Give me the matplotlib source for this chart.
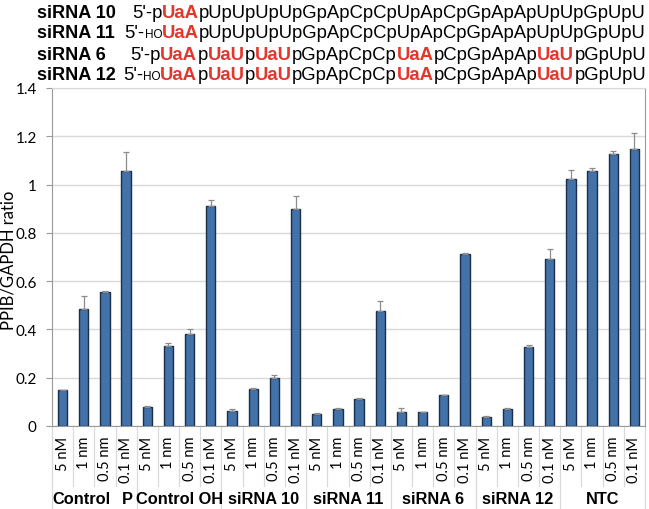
import matplotlib
matplotlib.use("Agg")
import matplotlib.pyplot as plt
import numpy as np

W, H = 649, 510

groups = ["Control  P", "Control OH", "siRNA 10", "siRNA 11", "siRNA 6", "siRNA 12", "NTC"]
conc = ["5 nM", "1 nm", "0.5 nm", "0.1 nM"]

ratio = [0.148, 0.486, 0.554, 1.057,
         0.080, 0.331, 0.379, 0.910,
         0.062, 0.154, 0.199, 0.897,
         0.050, 0.069, 0.110, 0.476,
         0.058, 0.058, 0.127, 0.714,
         0.037, 0.069, 0.326, 0.690,
         1.023, 1.058, 1.127, 1.148]
err = [0.003, 0.052, 0.005, 0.078,
       0.003, 0.012, 0.024, 0.025,
       0.010, 0.003, 0.012, 0.057,
       0.002, 0.004, 0.007, 0.040,
       0.015, 0.002, 0.002, 0.003,
       0.006, 0.005, 0.009, 0.042,
       0.036, 0.012, 0.014, 0.066]

# sequence rows: (label, [(text, kind)]) kind: n normal, r red bold, s small
rows = [
    ("siRNA 10", [("5'-p", "n"), ("UaA", "r"), ("pUpUpUpUpGpApCpCpUpApCpGpApApUpUpGpUpU", "n")]),
    ("siRNA 11", [("5'-", "n"), ("HO", "s"), ("UaA", "r"), ("pUpUpUpUpGpApCpCpUpApCpGpApApUpUpGpUpU", "n")]),
    ("siRNA 6", [("5'-p", "n"), ("UaA", "r"), ("p", "n"), ("UaU", "r"), ("p", "n"), ("UaU", "r"),
                 ("pGpApCpCp", "n"), ("UaA", "r"), ("pCpGpApAp", "n"), ("UaU", "r"), ("pGpUpU", "n")]),
    ("siRNA 12", [("5'-", "n"), ("HO", "s"), ("UaA", "r"), ("p", "n"), ("UaU", "r"), ("p", "n"), ("UaU", "r"),
                  ("pGpApCpCp", "n"), ("UaA", "r"), ("pCpGpApAp", "n"), ("UaU", "r"), ("pGpUpU", "n")]),
]

BAR = "#4372A9"
EDGE = "#1C2F4A"
RED = "#E2372C"
GRID = "#D9D9D9"
AXIS = "#9A9A9A"
ARIAL = "Liberation Sans"
CAL = "Lato"

fig = plt.figure(figsize=(W / 100, H / 100), dpi=100)
ax_l, ax_r, ax_t, ax_b = 52, 645, 89, 427
ax = fig.add_axes([ax_l / W, 1 - ax_b / H, (ax_r - ax_l) / W, (ax_b - ax_t) / H])

x = np.arange(len(ratio))
ax.bar(x, ratio, width=0.44, color=BAR, edgecolor=EDGE, linewidth=1.0, zorder=3)
ax.errorbar(x, ratio, yerr=[np.zeros(len(err)), err], fmt="none", ecolor="#8C8C8C",
            elinewidth=0.9, capsize=2, capthick=0.9, zorder=4)

ax.set_xlim(-0.5, len(ratio) - 0.5)
ax.set_ylim(0, 1.4)
ax.set_yticks(np.arange(0, 1.41, 0.2))
ax.set_yticklabels(["0", "0.2", "0.4", "0.6", "0.8", "1", "1.2", "1.4"])
ax.yaxis.grid(True, color=GRID, lw=1.0, zorder=0)
ax.set_axisbelow(True)
for s in ax.spines.values():
    s.set_color(AXIS)
    s.set_linewidth(0.8)
ax.spines["top"].set_color(GRID)
ax.tick_params(axis="y", length=4, color=AXIS, labelsize=11, pad=7)
for lab in ax.get_yticklabels():
    lab.set_fontfamily(CAL)
ax.set_xticks([])
ax.set_ylabel("PPIB/GAPDH ratio", fontsize=12, fontfamily=CAL)
ax.yaxis.set_label_coords((16.5 - ax_l) / (ax_r - ax_l), (ax_b - 260) / (ax_b - ax_t))

# category labels and separators below the axis
ah = ax_b - ax_t
trans = ax.get_xaxis_transform()
for i in range(len(ratio)):
    ax.text(i, -10 / ah, conc[i % 4], rotation=90, ha="center", va="top",
            fontsize=10.5, fontfamily=CAL, transform=trans)
for b in range(len(ratio) + 1):
    low = -83 / ah if b % 4 == 0 else -60 / ah
    ax.plot([b - 0.5, b - 0.5], [0, low], color=GRID, lw=0.9, transform=trans, clip_on=False)
gkw = dict(va="center", fontsize=11.8, fontweight="bold", fontfamily=ARIAL, transform=trans)
for g, name in enumerate(groups):
    if "  " in name:
        # spread label: first word at the group's left edge, last word near its right edge
        first, last = name.split("  ")
        ax.text(g * 4 - 0.5, -72.5 / ah, first, ha="left", **gkw)
        ax.text(g * 4 + 3.3, -72.5 / ah, last, ha="right", **gkw)
    else:
        ax.text(g * 4 + 1.5, -72.5 / ah, name, ha="center", **gkw)

# sequence header, right-aligned rows built piece by piece
renderer = fig.canvas.get_renderer()
styles = {
    "n": dict(fontsize=13.3, fontfamily=ARIAL, color="black"),
    "r": dict(fontsize=13.3, fontfamily=ARIAL, color=RED, fontweight="bold"),
    "s": dict(fontsize=8.5, fontfamily=ARIAL, color="black"),
}
baselines = [17.5, 38, 59.5, 80.5]
for (label, pieces), yb in zip(rows, baselines):
    fig.text(37 / W, 1 - yb / H, label, ha="left", va="baseline", fontsize=13.1,
             fontweight="bold", fontfamily=ARIAL)
    xr = 646
    for txt, kind in reversed(pieces):
        t = fig.text(xr / W, 1 - yb / H, txt, ha="right", va="baseline", **styles[kind])
        xr = t.get_window_extent(renderer).x0

fig.savefig("out.png", dpi=100)
